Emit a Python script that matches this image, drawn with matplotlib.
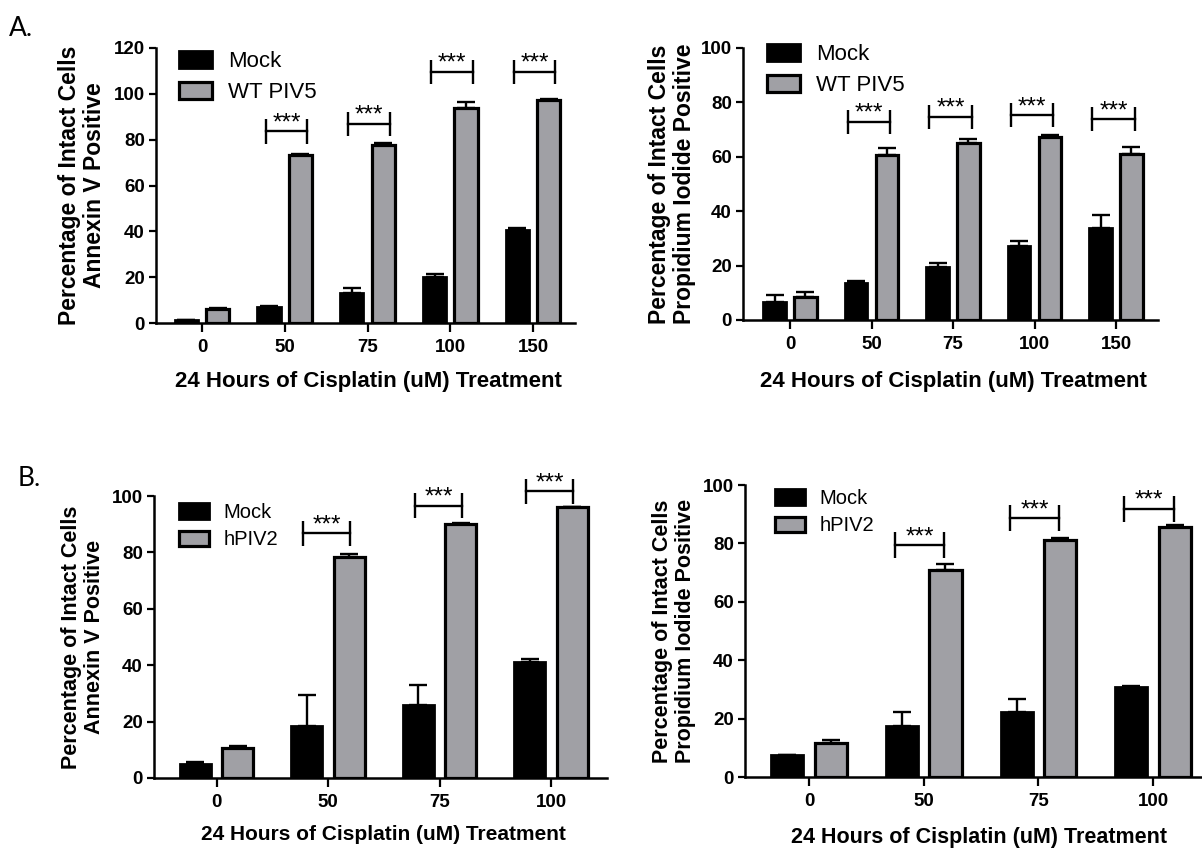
import matplotlib
matplotlib.use("Agg")
from matplotlib import pyplot as plt
import numpy as np

plt.rcParams['font.family'] = ['Liberation Sans', 'DejaVu Sans']

W, H = 1202, 848

# data
doses_a = ["0", "50", "75", "100", "150"]
doses_b = ["0", "50", "75", "100"]

annexin_a_mock = [1.5, 7.0, 13.1, 20.1, 40.7]
annexin_a_mock_err = [0.0, 0.3, 2.2, 1.3, 0.6]
annexin_a_wt = [6.3, 73.2, 77.8, 93.8, 97.5]
annexin_a_wt_err = [0.4, 0.7, 0.7, 2.6, 0.4]
annexin_a_sig = [None, 83.6, 86.8, 109.7, 109.7]

pi_a_mock = [6.7, 13.5, 19.6, 27.3, 33.7]
pi_a_mock_err = [2.6, 0.9, 1.2, 1.8, 4.9]
pi_a_wt = [8.3, 60.6, 64.9, 67.1, 61.2]
pi_a_wt_err = [2.0, 2.7, 1.8, 0.8, 2.4]
pi_a_sig = [None, 72.8, 74.7, 75.3, 73.8]

annexin_b_mock = [5.0, 18.3, 26.0, 41.0]
annexin_b_mock_err = [0.7, 11.0, 7.1, 1.3]
annexin_b_hpiv2 = [10.6, 78.3, 90.1, 96.0]
annexin_b_hpiv2_err = [0.6, 1.0, 0.5, 0.0]
annexin_b_sig = [None, 86.8, 96.5, 101.6]

pi_b_mock = [7.7, 17.4, 22.3, 30.9]
pi_b_mock_err = [0.0, 4.9, 4.3, 0.2]
pi_b_hpiv2 = [11.7, 70.9, 81.1, 85.7]
pi_b_hpiv2_err = [0.9, 1.9, 0.6, 0.6]
pi_b_sig = [None, 79.4, 88.6, 91.8]

GREY = "#a0a0a5"


def draw_panel(fig, lay, cats, mock, mock_err, trt, trt_err, sig, trt_name,
               ylabel, ymax, ystep, legend_fs, xlabel_fs, ylabel_fs, bracket_off):
    left, top, right, bottom = lay["box"]
    ax = fig.add_axes([left / W, 1 - bottom / H, (right - left) / W, (bottom - top) / H])
    t0, step = lay["ticks"]
    ax.set_xlim((left - t0) / step, (right - t0) / step)
    ax.set_ylim(0, ymax)

    x = np.arange(len(cats))
    off, bw = 0.19, 0.28
    b1 = ax.bar(x - off, mock, bw, color="black", edgecolor="black",
                linewidth=2, label="Mock", zorder=2)
    b2 = ax.bar(x + off, trt, bw, color=GREY, edgecolor="black",
                linewidth=2.3, label=trt_name, zorder=2)
    ax.errorbar(x - off, mock, yerr=[np.zeros(len(cats)), mock_err], fmt="none",
                ecolor="black", elinewidth=1.7, capsize=6.5, capthick=1.7, zorder=1)
    ax.errorbar(x + off, trt, yerr=[np.zeros(len(cats)), trt_err], fmt="none",
                ecolor="black", elinewidth=1.7, capsize=6.5, capthick=1.7, zorder=1)

    # significance brackets
    leg = 0.044 * ymax
    for i, s in enumerate(sig):
        if s is None:
            continue
        xa, xb = i + bracket_off[0], i + bracket_off[1]
        ax.plot([xa, xb], [s, s], color="black", lw=1.7, clip_on=False)
        ax.vlines([xa, xb], s - leg, s + leg, color="black", lw=1.7, clip_on=False)
        ax.annotate("***", ((xa + xb) / 2, s), xytext=(0, 1.5),
                    textcoords="offset points", ha="center", va="baseline",
                    fontsize=17.5, annotation_clip=False)

    ax.set_xticks(x)
    ax.set_xticklabels(cats)
    ax.set_yticks(np.arange(0, ymax + 1, ystep))
    for sp in ["top", "right"]:
        ax.spines[sp].set_visible(False)
    for sp in ["left", "bottom"]:
        ax.spines[sp].set_linewidth(1.8)
    ax.tick_params(axis="y", length=5, width=1.6, pad=3, labelsize=13.5)
    ax.tick_params(axis="x", length=6.5, width=1.6, pad=5, labelsize=13.5)
    for lab in ax.get_xticklabels() + ax.get_yticklabels():
        lab.set_fontweight("bold")

    ax.set_ylabel(ylabel, fontsize=ylabel_fs, fontweight="bold", linespacing=1.12)
    ax.yaxis.label.set_va("center")
    ax.yaxis.set_label_coords((lay["ylab_x"] - left) / (right - left), 0.5)
    ax.set_xlabel("24 Hours of Cisplatin (uM) Treatment", fontsize=xlabel_fs,
                  fontweight="bold")
    ax.xaxis.label.set_va("center")
    ax.xaxis.set_label_coords(0.507, (bottom - lay["xlab_y"]) / (bottom - top))

    lx, ly = lay["legend"]
    ax.legend(handles=[b1, b2], loc="upper left",
              bbox_to_anchor=(lx / W, 1 - ly / H), bbox_transform=fig.transFigure,
              frameon=False, fontsize=legend_fs, borderpad=0, borderaxespad=0,
              handlelength=1.5, handleheight=0.8, handletextpad=0.7,
              labelspacing=0.42)
    return ax


fig = plt.figure(figsize=(W / 100, H / 100), dpi=100)

lay_a1 = dict(box=(156, 48, 575, 323), ticks=(202, 82.75), ylab_x=82, xlab_y=381,
              legend=(179, 51))
lay_a2 = dict(box=(743, 48, 1158, 320), ticks=(790, 81.5), ylab_x=672, xlab_y=382,
              legend=(767, 44))
lay_b1 = dict(box=(154, 496, 607, 778), ticks=(216.5, 111.5), ylab_x=83, xlab_y=835,
              legend=(179, 503))
lay_b2 = dict(box=(745, 485, 1207, 777), ticks=(809, 114.7), ylab_x=674, xlab_y=837,
              legend=(775, 489))

draw_panel(fig, lay_a1, doses_a, annexin_a_mock, annexin_a_mock_err, annexin_a_wt,
           annexin_a_wt_err, annexin_a_sig, "WT PIV5",
           "Percentage of Intact Cells\nAnnexin V Positive", 120, 20, 16, 16, 16.5,
           (-0.23, 0.27))
draw_panel(fig, lay_a2, doses_a, pi_a_mock, pi_a_mock_err, pi_a_wt, pi_a_wt_err,
           pi_a_sig, "WT PIV5",
           "Percentage of Intact Cells\nPropidium Iodide Positive", 100, 20, 16, 16, 16.5,
           (-0.29, 0.23))
draw_panel(fig, lay_b1, doses_b, annexin_b_mock, annexin_b_mock_err, annexin_b_hpiv2,
           annexin_b_hpiv2_err, annexin_b_sig, "hPIV2",
           "Percentage of Intact Cells\nAnnexin V Positive", 100, 20, 14.5, 15, 15.5,
           (-0.22, 0.2))
draw_panel(fig, lay_b2, doses_b, pi_b_mock, pi_b_mock_err, pi_b_hpiv2, pi_b_hpiv2_err,
           pi_b_sig, "hPIV2",
           "Percentage of Intact Cells\nPropidium Iodide Positive", 100, 20, 14.5, 15.5, 15.5,
           (-0.25, 0.18))

fig.text(9 / W, 1 - 29 / H, "A.", fontsize=19, family=["Lato", "DejaVu Sans"], va="center")
fig.text(18 / W, 1 - 479 / H, "B.", fontsize=19, family=["Lato", "DejaVu Sans"], va="center")

fig.savefig("out.png", dpi=100)
